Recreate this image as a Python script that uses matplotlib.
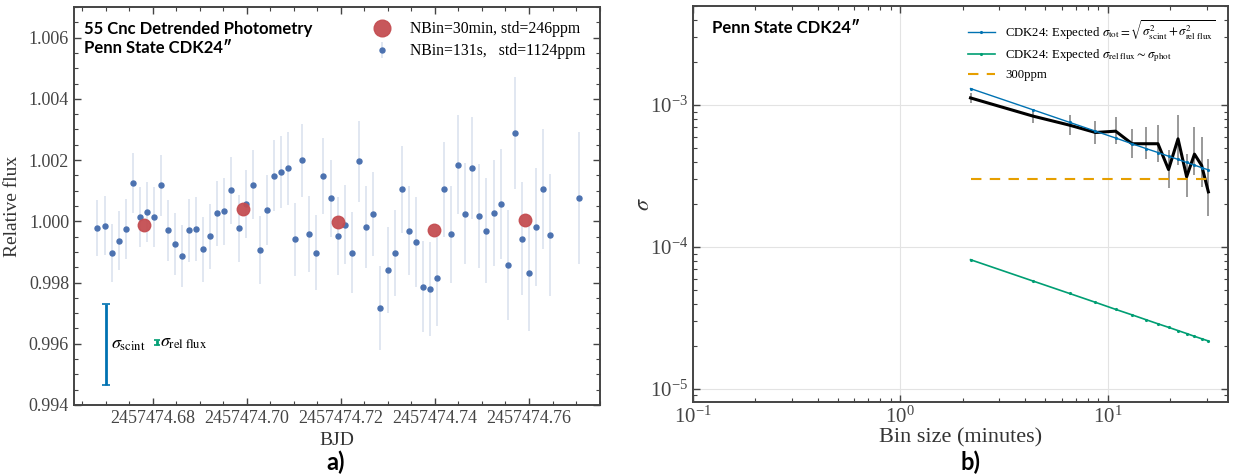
import numpy as np
import matplotlib
matplotlib.use("Agg")
import matplotlib.pyplot as plt
from matplotlib.ticker import FormatStrFormatter, MultipleLocator, LogLocator, NullFormatter

plt.rcParams['font.family'] = ['Liberation Serif', 'DejaVu Serif']
plt.rcParams['mathtext.fontset'] = 'stix'

BJD0 = 2457474.0

# --- panel a: 131 s bins (BJD offset, flux, error) ---
t_131s = [0.6682, 0.6697, 0.6712, 0.6727, 0.6742, 0.6757, 0.6772, 0.6787, 0.6802, 0.6817,
          0.6832, 0.6847, 0.6862, 0.6877, 0.6892, 0.6907, 0.6922, 0.6937, 0.6952, 0.6967,
          0.6982, 0.6998, 0.7013, 0.7028, 0.7043, 0.7057, 0.7072, 0.7088, 0.7103, 0.7118,
          0.7133, 0.7147, 0.7162, 0.7178, 0.7193, 0.7208, 0.7223, 0.7238, 0.7254, 0.7269,
          0.7284, 0.7299, 0.7314, 0.7329, 0.7344, 0.7359, 0.7374, 0.7389, 0.7404, 0.7419,
          0.7434, 0.7449, 0.7464, 0.7479, 0.7494, 0.7509, 0.7525, 0.7540, 0.7555, 0.7570,
          0.7585, 0.7600, 0.7615, 0.7630, 0.7645, 0.7706]
flux_131s = [0.99978, 0.99986, 0.99896, 0.99937, 0.99974, 1.00124, 1.00014, 1.00029, 1.00014, 1.00117,
             0.99970, 0.99925, 0.99887, 0.99970, 0.99975, 0.99908, 0.99951, 1.00026, 1.00032, 1.00101,
             0.99977, 1.00056, 1.00120, 0.99906, 1.00038, 1.00149, 1.00160, 1.00173, 0.99941, 1.00199,
             0.99959, 0.99898, 1.00149, 1.00075, 0.99952, 0.99988, 0.99898, 1.00196, 0.99980, 1.00024,
             0.99716, 0.99842, 0.99897, 1.00104, 0.99969, 0.99933, 0.99787, 0.99779, 0.99814, 1.00104,
             0.99957, 1.00185, 1.00025, 1.00175, 1.00017, 0.99969, 1.00027, 1.00056, 0.99857, 1.00288,
             0.99943, 0.99830, 0.99981, 1.00104, 0.99955, 1.00075]
err_131s = [0.00092, 0.00095, 0.00095, 0.00096, 0.00098, 0.00098, 0.00097, 0.00098, 0.00099, 0.00100,
            0.00099, 0.00102, 0.00102, 0.00104, 0.00104, 0.00105, 0.00106, 0.00107, 0.00109, 0.00109,
            0.00109, 0.00112, 0.00112, 0.00112, 0.00114, 0.00116, 0.00118, 0.00120, 0.00120, 0.00120,
            0.00123, 0.00123, 0.00124, 0.00125, 0.00126, 0.00129, 0.00131, 0.00133, 0.00134, 0.00136,
            0.00138, 0.00140, 0.00141, 0.00143, 0.00145, 0.00147, 0.00150, 0.00154, 0.00155, 0.00156,
            0.00158, 0.00161, 0.00164, 0.00166, 0.00169, 0.00172, 0.00174, 0.00179, 0.00181, 0.00183,
            0.00185, 0.00187, 0.00192, 0.00196, 0.00200, 0.00216]

# 30 min bins
t_30min = [0.6781, 0.6991, 0.7194, 0.7397, 0.7591]
flux_30min = [0.99987, 1.00039, 0.99998, 0.99970, 1.00005]

# scale bars
scint_pos = (0.66992, 0.99597)
scint_err = 0.001326
relflux_pos = (0.68092, 0.99603)
relflux_err = 0.00008

# --- panel b: precision vs bin size ---
bin_minutes = [2.18, 4.37, 6.55, 8.73, 10.92, 13.10, 15.28, 17.47, 19.65, 21.83, 24.02, 26.20, 28.38, 30.57]
sigma_meas = [1.125e-3, 8.37e-4, 7.23e-4, 6.42e-4, 6.56e-4, 5.35e-4, 5.35e-4, 5.35e-4, 3.52e-4, 5.79e-4,
              3.13e-4, 4.52e-4, 3.76e-4, 2.45e-4]
sigma_hi = [1.209e-3, 9.33e-4, 8.50e-4, 7.76e-4, 8.19e-4, 6.74e-4, 7.03e-4, 7.23e-4, 4.82e-4, 8.46e-4,
            4.52e-4, 7.03e-4, 5.98e-4, 4.21e-4]
sigma_lo = [1.028e-3, 7.43e-4, 6.15e-4, 5.37e-4, 5.37e-4, 4.26e-4, 4.15e-4, 3.99e-4, 2.62e-4, 3.78e-4,
            2.24e-4, 3.21e-4, 2.66e-4, 1.66e-4]
sigma_tot_exp = [1.31e-3, 9.27e-4, 7.57e-4, 6.56e-4, 5.87e-4, 5.35e-4, 4.95e-4, 4.64e-4, 4.37e-4, 4.15e-4,
                 3.95e-4, 3.78e-4, 3.63e-4, 3.50e-4]
sigma_rel_exp = [8.15e-5, 5.76e-5, 4.71e-5, 4.08e-5, 3.64e-5, 3.33e-5, 3.08e-5, 2.88e-5, 2.72e-5, 2.58e-5,
                 2.46e-5, 2.35e-5, 2.26e-5, 2.18e-5]
level_300ppm = 3e-4

blue = '#4C72B0'
red = '#C44E52'
cb_blue = '#0072B2'
cb_green = '#009E73'
cb_orange = '#E69F00'
spine_col = '#444444'
title_font = ['Lato', 'DejaVu Sans']


def style_axes(ax):
    for s in ax.spines.values():
        s.set_color(spine_col)
        s.set_linewidth(1.4)
    ax.tick_params(which='both', direction='in', top=True, right=True, colors=spine_col)
    ax.tick_params(which='major', length=5, width=1)
    ax.tick_params(which='minor', length=3, width=0.8)


fig = plt.figure(figsize=(12.33, 4.76), dpi=100)

# ---------------- panel a ----------------
ax1 = fig.add_axes([0.0600, 0.1492, 0.4266, 0.8361])
x131 = BJD0 + np.array(t_131s)
x30 = BJD0 + np.array(t_30min)
eb = ax1.errorbar(x131, flux_131s, yerr=err_131s, fmt='o', color=blue, ms=3.6,
                  ecolor=(0.30, 0.45, 0.69, 0.2), elinewidth=1.2, zorder=3)
red_pts, = ax1.plot(x30, flux_30min, 'o', color=red, ms=9, alpha=0.95, zorder=4)

ax1.errorbar(BJD0 + scint_pos[0], scint_pos[1], yerr=scint_err, color=cb_blue,
             elinewidth=2, capsize=3, capthick=1.2)
ax1.text(BJD0 + scint_pos[0] + 0.0011, scint_pos[1], r'$\sigma_{\rm scint}$',
         fontsize=13, va='center', ha='left')
ax1.errorbar(BJD0 + relflux_pos[0], relflux_pos[1], yerr=relflux_err, color=cb_green,
             elinewidth=2, capsize=2, capthick=1.2)
ax1.text(BJD0 + relflux_pos[0] + 0.0006, relflux_pos[1], r'$\sigma_{\rm rel\ flux}$',
         fontsize=13, va='center', ha='left')

ax1.set_xlim(BJD0 + 0.6632, BJD0 + 0.7751)
ax1.set_ylim(0.994, 1.007)
ax1.xaxis.set_major_locator(MultipleLocator(0.02))
ax1.xaxis.set_minor_locator(MultipleLocator(0.005))
ax1.xaxis.set_major_formatter(FormatStrFormatter('%.2f'))
ax1.yaxis.set_major_locator(MultipleLocator(0.002))
ax1.yaxis.set_minor_locator(MultipleLocator(0.0005))
ax1.yaxis.set_major_formatter(FormatStrFormatter('%.3f'))
style_axes(ax1)
ax1.tick_params(labelsize=13)
ax1.set_xlabel('BJD', fontsize=14, color='#333333')
ax1.set_ylabel('Relative flux', fontsize=14, color='#333333', labelpad=6)

leg1 = ax1.legend([red_pts, eb], ['NBin=30min, std=246ppm', 'NBin=131s,   std=1124ppm'],
                  loc='upper right', frameon=False, fontsize=11.3, handletextpad=0.8,
                  borderaxespad=0.5, labelspacing=0.4)
leg1.legend_handles[0].set_markersize(12)

ax1.text(0.019, 0.965, '55 Cnc Detrended Photometry\nPenn State CDK24\u2033',
         transform=ax1.transAxes, ha='left', va='top', fontsize=12,
         family=title_font, fontweight='bold', linespacing=1.25)

fig.text(336 / 1233, 1 - 462 / 476, 'a)', fontsize=17, family=title_font,
         fontweight='bold', ha='center', va='center')

# ---------------- panel b ----------------
ax2 = fig.add_axes([0.5620, 0.1555, 0.4339, 0.8319])
ax2.set_xscale('log')
ax2.set_yscale('log')
ax2.grid(True, which='major', color='#e3e3e3', lw=0.8, zorder=0)

sig = np.array(sigma_meas)
yerr = [sig - np.array(sigma_lo), np.array(sigma_hi) - sig]
ax2.errorbar(bin_minutes, sigma_meas, yerr=yerr, fmt='none', ecolor='#888888',
             elinewidth=1.2, zorder=2)
ax2.plot(bin_minutes, sigma_meas, color='black', lw=2.2, zorder=3)
ax2.plot(bin_minutes, sigma_tot_exp, '.-', color=cb_blue, lw=1, ms=2.5, zorder=4,
         label=r'CDK24: Expected $\sigma_{\rm tot} = \sqrt{\sigma_{\rm scint}^2 + \sigma_{\rm rel\ flux}^2}$')
ax2.plot(bin_minutes, sigma_rel_exp, '.-', color=cb_green, lw=1.2, ms=2.5, zorder=4,
         label=r'CDK24: Expected $\sigma_{\rm rel\ flux} \sim \sigma_{\rm phot}$')
ax2.plot([bin_minutes[0], bin_minutes[-1]], [level_300ppm, level_300ppm], '--',
         color=cb_orange, lw=1.5, dashes=(5, 4), zorder=3, label='300ppm')

ax2.set_xlim(0.1, 38)
ax2.set_ylim(8.1e-6, 5e-3)
ax2.xaxis.set_minor_locator(LogLocator(base=10, subs=np.arange(2, 10)))
ax2.yaxis.set_minor_locator(LogLocator(base=10, subs=np.arange(2, 10)))
ax2.xaxis.set_minor_formatter(NullFormatter())
ax2.yaxis.set_minor_formatter(NullFormatter())
style_axes(ax2)
ax2.tick_params(labelsize=15)
ax2.set_xlabel('Bin size (minutes)', fontsize=16, color='#333333', labelpad=0)
ax2.set_ylabel(r'$\sigma$', fontsize=16, color='#333333', labelpad=-3)

ax2.legend(loc='upper right', frameon=False, fontsize=9.2, handlelength=2.1,
           borderaxespad=0.6, labelspacing=0.4, handletextpad=0.8)

ax2.text(0.035, 0.965, 'Penn State CDK24\u2033', transform=ax2.transAxes,
         ha='left', va='top', fontsize=12, family=title_font, fontweight='bold')

fig.text(970 / 1233, 1 - 462 / 476, 'b)', fontsize=17, family=title_font,
         fontweight='bold', ha='center', va='center')

fig.savefig('out.png', dpi=100)
